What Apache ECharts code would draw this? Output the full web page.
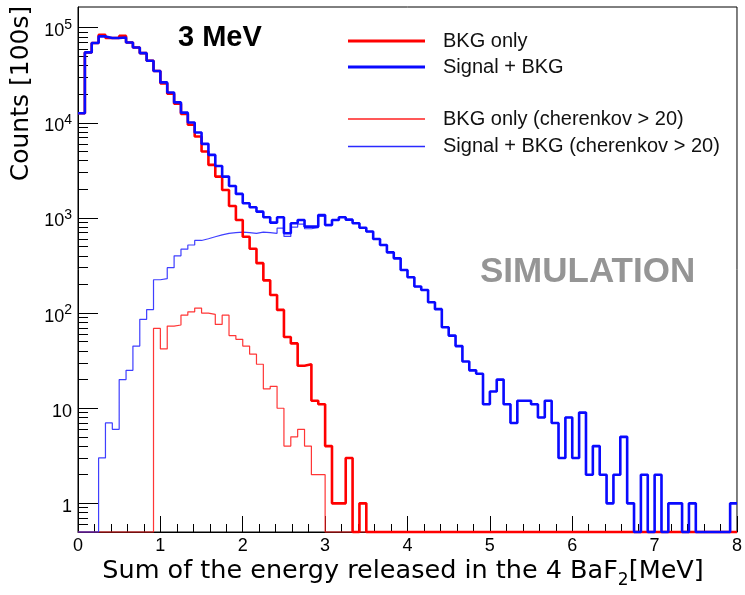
<!DOCTYPE html>
<html>
<head>
<meta charset="utf-8">
<script src="https://cdn.jsdelivr.net/npm/echarts@6/dist/echarts.min.js"></script>
<style>
html, body { margin: 0; padding: 0; background: #ffffff; }
#chart { width: 745px; height: 595px; }
</style>
</head>
<body>
<div id="chart"></div>
<script>
// Summed BaF2 energy spectra, 96 bins of 1/12 MeV from 0 to 8 MeV (counts per 100 s)
const E_MIN = 0;
const E_MAX = 8;
const BIN_COUNT = 96;

// BKG only
const bkgOnly = [
  12600, 55000, 69000, 84000, 78000, 78000, 82000, 70000, 62000, 54000,
  45000, 35000, 26000, 20200, 15850, 12400, 9530, 7180, 4990, 3610,
  2720, 1970, 1336, 953, 635, 475, 335, 221, 155, 108,
  56, 48, 28, 29, 12, 11, 4, 1, 1, 3,
  0, 1, 0, 0, 0, 0, 0, 0, 0, 0,
  0, 0, 0, 0, 0, 0, 0, 0, 0, 0,
  0, 0, 0, 0, 0, 0, 0, 0, 0, 0,
  0, 0, 0, 0, 0, 0, 0, 0, 0, 0,
  0, 0, 0, 0, 0, 0, 0, 0, 0, 0,
  0, 0, 0, 0, 0, 0
];

// Signal + BKG
const signalBkg = [
  12600, 55000, 69000, 81000, 78000, 78000, 79000, 70000, 62000, 54000,
  45000, 35000, 26600, 20800, 16400, 12800, 10070, 7900, 6010, 4600,
  3520, 2720, 2170, 1790, 1430, 1295, 1165, 1016, 893, 1016,
  690, 880, 953, 810, 810, 1075, 843, 953, 1016, 960,
  880, 790, 720, 600, 520, 435, 376, 284, 238, 190,
  175, 130, 110, 71, 58, 45, 31, 25, 23, 11,
  15, 20, 11, 7, 12, 12, 11, 8, 12, 7,
  3, 8, 3, 9, 2, 4, 2, 1, 2, 5,
  1, 0, 2, 0, 2, 0, 1, 1, 0, 1,
  0, 0, 0, 0, 0, 1
];

// BKG only, cherenkov > 20
const bkgOnlyCut = [
  0, 0, 0, 0, 0, 0, 0, 0, 0, 0,
  0, 69, 42, 73, 75, 95, 103, 113, 100, 97,
  76, 95, 58, 53, 45, 37, 29, 16, 17, 10,
  4, 5, 6, 4, 2, 2, 0, 0, 0, 0,
  0, 0, 0, 0, 0, 0, 0, 0, 0, 0,
  0, 0, 0, 0, 0, 0, 0, 0, 0, 0,
  0, 0, 0, 0, 0, 0, 0, 0, 0, 0,
  0, 0, 0, 0, 0, 0, 0, 0, 0, 0,
  0, 0, 0, 0, 0, 0, 0, 0, 0, 0,
  0, 0, 0, 0, 0, 0
];

// Signal + BKG, cherenkov > 20
const signalBkgCut = [
  0, 0, 0, 3, 7, 6, 20, 25, 45, 86,
  109, 224, 230, 300, 400, 470, 520, 580, 605, 635,
  665, 690, 700, 710, 700, 690, 710, 700, 690, 780,
  640, 800, 860, 770, 790, 1040, 830, 945, 1012, 955,
  880, 789, 720, 600, 520, 435, 376, 284, 238, 190,
  175, 130, 110, 71, 58, 45, 31, 25, 23, 11,
  15, 20, 11, 7, 12, 12, 11, 8, 12, 7,
  3, 8, 3, 9, 2, 4, 2, 1, 2, 5,
  1, 0, 2, 0, 2, 0, 1, 1, 0, 1,
  0, 0, 0, 0, 0, 1
];

const seriesNames = [
  'BKG only',
  'Signal + BKG',
  'BKG only (cherenkov > 20)',
  'Signal + BKG (cherenkov > 20)'
];

const yMajorTicks = [1, 10, 100, 1000, 10000, 100000];
const yTickLabels = ['1', '10', '10{sup|2}', '10{sup|3}', '10{sup|4}', '10{sup|5}'];
const xMinorTicks = [];
for (let i = 0; i <= 40; i++) { if (i % 5 !== 0) xMinorTicks.push(i / 5); }

const Y_MIN = 0.5;
const Y_MAX = 1.65e5;

const yMinorTicks = [0.6, 0.7, 0.8, 0.9];
yMajorTicks.slice(0, 5).forEach(d => {
  for (let m = 2; m <= 9; m++) yMinorTicks.push(m * d);
});

// Histogram outline: each bin becomes a flat segment; empty bins sit on the frame bottom
const binWidth = (E_MAX - E_MIN) / BIN_COUNT;
function outline(counts) {
  const pts = [];
  counts.forEach((c, i) => {
    const v = c > 0 ? c : Y_MIN;
    pts.push([E_MIN + i * binWidth, v]);
    pts.push([E_MIN + (i + 1) * binWidth, v]);
  });
  return pts;
}

function histSeries(name, counts, color, width, opacity) {
  return {
    name: name,
    type: 'line',
    data: outline(counts),
    xAxisIndex: 0,
    yAxisIndex: 0,
    symbol: 'none',
    showSymbol: false,
    clip: false,
    color: color,
    lineStyle: { color: color, width: width, opacity: opacity },
    emphasis: { disabled: true },
    silent: true
  };
}

const FONT = '"Liberation Sans", Arial, Helvetica, sans-serif';
const TITLE_FONT = '"DejaVu Sans", Verdana, sans-serif';

const legendText = { fontSize: 20, fontFamily: FONT, color: '#111111', padding: [0, 0, 0, 13] };

const chart = echarts.init(document.getElementById('chart'), null, { renderer: 'canvas' });

chart.setOption({
  animation: false,
  backgroundColor: '#ffffff',
  grid: {
    left: 78, top: 7, width: 665, height: 525,
    show: true, borderColor: '#000000', borderWidth: 1, backgroundColor: 'transparent'
  },
  xAxis: [
    {
      type: 'value', min: E_MIN, max: E_MAX, interval: 1, position: 'bottom',
      axisLine: { show: true, onZero: false, lineStyle: { color: '#000000', width: 1 } },
      axisTick: { show: true, inside: true, length: 16, lineStyle: { color: '#000000', width: 1 } },
      axisLabel: { margin: 5, fontSize: 18, color: '#000000', fontFamily: FONT },
      splitLine: { show: false }
    },
    {
      type: 'value', min: E_MIN, max: E_MAX, position: 'bottom',
      axisLine: { show: false },
      axisTick: { show: true, inside: true, length: 8, customValues: xMinorTicks, lineStyle: { color: '#000000', width: 1 } },
      axisLabel: { show: false },
      splitLine: { show: false }
    }
  ],
  yAxis: [
    {
      type: 'log', logBase: 10, min: Y_MIN, max: Y_MAX, position: 'left',
      axisLine: { show: true, onZero: false, lineStyle: { color: '#000000', width: 1 } },
      axisTick: { show: true, inside: true, length: 20, customValues: yMajorTicks, lineStyle: { color: '#000000', width: 1 } },
      axisLabel: {
        customValues: yMajorTicks,
        margin: 6, fontSize: 18, color: '#000000', fontFamily: FONT,
        padding: [7, 0, 0, 0],
        formatter: function (v) {
          const idx = yMajorTicks.indexOf(Math.round(v));
          return idx >= 0 ? yTickLabels[idx] : '';
        },
        rich: {
          sup: { fontSize: 14, fontFamily: FONT, color: '#000000', padding: [0, 0, 12, 0] }
        }
      },
      splitLine: { show: false }
    },
    {
      type: 'log', logBase: 10, min: Y_MIN, max: Y_MAX, position: 'left',
      axisLine: { show: false },
      axisTick: { show: true, inside: true, length: 10, customValues: yMinorTicks, lineStyle: { color: '#000000', width: 1 } },
      axisLabel: { show: false },
      splitLine: { show: false }
    }
  ],
  legend: [
    {
      data: [seriesNames[0], seriesNames[1]],
      orient: 'vertical', left: 348, top: 31, padding: 0,
      icon: 'rect', itemWidth: 77, itemHeight: 3, itemGap: 6,
      selectedMode: false,
      textStyle: legendText
    },
    {
      data: [seriesNames[2], seriesNames[3]],
      orient: 'vertical', left: 348, top: 109, padding: 0,
      icon: 'rect', itemWidth: 77, itemHeight: 1.5, itemGap: 7.5,
      selectedMode: false,
      textStyle: legendText
    }
  ],
  series: [
    histSeries(seriesNames[2], bkgOnlyCut, '#ff2020', 1.2, 0.9),
    histSeries(seriesNames[3], signalBkgCut, '#2a2aff', 1.2, 0.9),
    histSeries(seriesNames[0], bkgOnly, '#ff0000', 2.6, 1),
    histSeries(seriesNames[1], signalBkg, '#0a0aff', 2.6, 1)
  ],
  graphic: [
    {
      type: 'text', x: 21.5, y: 93.5, rotation: Math.PI / 2,
      style: { text: 'Counts [100s]', font: '25px ' + TITLE_FONT, fill: '#000000', align: 'center', verticalAlign: 'middle' }
    },
    {
      type: 'text', x: 403, y: 571,
      style: {
        text: 'Sum of the energy released in the 4 BaF{sub|2}[MeV]',
        font: '25.5px ' + TITLE_FONT, fill: '#000000', align: 'center', verticalAlign: 'middle',
        rich: { sub: { font: '17px ' + TITLE_FONT, fill: '#000000', padding: [19, 0, 0, 0] } }
      }
    },
    {
      type: 'text', x: 178, y: 38,
      style: { text: '3 MeV', font: 'bold 29px ' + FONT, fill: '#000000', align: 'left', verticalAlign: 'middle' }
    },
    {
      type: 'text', x: 480, y: 272,
      style: { text: 'SIMULATION', font: 'bold 35px ' + FONT, fill: '#959595', align: 'left', verticalAlign: 'middle' }
    }
  ]
});
</script>
</body>
</html>
